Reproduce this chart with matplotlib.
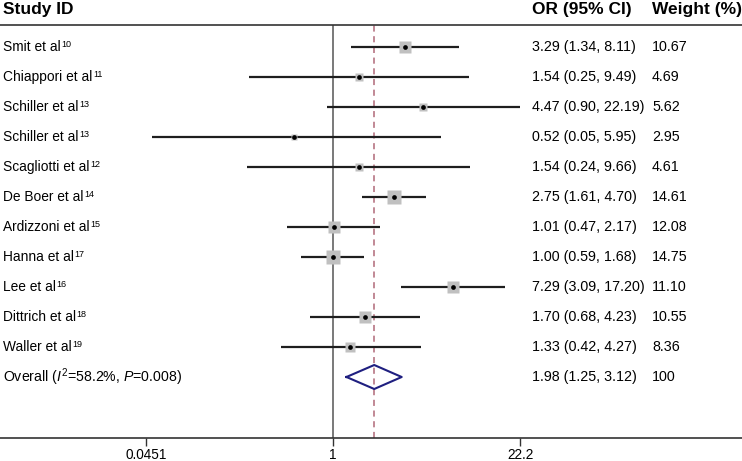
import matplotlib
matplotlib.use("Agg")
import matplotlib.pyplot as plt
import numpy as np
from matplotlib.transforms import blended_transform_factory

plt.rcParams['font.family'] = ['Liberation Sans', 'DejaVu Sans']
plt.rcParams['mathtext.fontset'] = 'custom'
plt.rcParams['mathtext.rm'] = 'Liberation Sans'
plt.rcParams['mathtext.it'] = 'Liberation Sans:italic'
plt.rcParams['mathtext.bf'] = 'Liberation Sans:bold'

# ---------------- data ----------------
studies = ["Smit et al", "Chiappori et al", "Schiller et al", "Schiller et al",
           "Scagliotti et al", "De Boer et al", "Ardizzoni et al", "Hanna et al",
           "Lee et al", "Dittrich et al", "Waller et al"]
refs = ["10", "11", "13", "13", "12", "14", "15", "17", "16", "18", "19"]
or_vals = [3.29, 1.54, 4.47, 0.52, 1.54, 2.75, 1.01, 1.00, 7.29, 1.70, 1.33]
ci_low = [1.34, 0.25, 0.90, 0.05, 0.24, 1.61, 0.47, 0.59, 3.09, 0.68, 0.42]
ci_high = [8.11, 9.49, 22.19, 5.95, 9.66, 4.70, 2.17, 1.68, 17.20, 4.23, 4.27]
weights = [10.67, 4.69, 5.62, 2.95, 4.61, 14.61, 12.08, 14.75, 11.10, 10.55, 8.36]

overall_or = 1.98
overall_low = 1.25
overall_high = 3.12
overall_label = "Overall ($I^{2}$=58.2%, $P$=0.008)"
overall_weight = "100"

tick_vals = [0.0451, 1, 22.2]
tick_labels = ["0.0451", "1", "22.2"]

# ---------------- figure ----------------
W, H = 742, 461
fig = plt.figure(figsize=(W / 100, H / 100), dpi=100)
top_px, bot_px = 25, 438
ax = fig.add_axes([0, (H - bot_px) / H, 1, (bot_px - top_px) / H])

# x scale: log, pixel = 333 + 139*log10(v)
ax.set_xscale('log')
x0_px, ppd = 333.0, 139.0
ax.set_xlim(10 ** ((0 - x0_px) / ppd), 10 ** ((W - x0_px) / ppd))

# y: row index, row i at pixel 47 + 30 i
row0_px, row_h = 47.0, 30.0
ax.set_ylim((bot_px - row0_px) / row_h, (top_px - row0_px) / row_h)

for s in ['left', 'right']:
    ax.spines[s].set_visible(False)
for s in ['top', 'bottom']:
    ax.spines[s].set_color('#333333')
    ax.spines[s].set_linewidth(1.2)
ax.set_yticks([])
ax.set_xticks(tick_vals)
ax.set_xticklabels(tick_labels, fontsize=9.8)
ax.minorticks_off()
ax.tick_params(axis='x', direction='out', length=6, width=1, color='#333333', pad=1.5)

n = len(studies)
rows = np.arange(n)
overall_row = n

# reference lines
ax.axvline(1, color='#555555', lw=1.1, zorder=1)
ax.axvline(overall_or, color='#b06878', lw=1.1, ls=(0, (4, 3)), zorder=1)

# CI lines and boxes
for i in range(n):
    ax.plot([ci_low[i], ci_high[i]], [rows[i], rows[i]], color='#1e1e1e', lw=1.6, zorder=2,
            solid_capstyle='butt')
    side_px = 3.65 * np.sqrt(weights[i])
    ax.plot(or_vals[i], rows[i], marker='s', ms=side_px * 0.72, color='#c0c0c0',
            mec='none', zorder=3)
    ax.plot(or_vals[i], rows[i], marker='o', ms=3.4, color='black', mec='none', zorder=4)

# diamond
dh = 0.4
dx = [overall_low, overall_or, overall_high, overall_or, overall_low]
dy = [overall_row, overall_row - dh, overall_row, overall_row + dh, overall_row]
ax.plot(dx, dy, color='#1f1f80', lw=1.5, zorder=4)

# text
trans = blended_transform_factory(ax.transAxes, ax.transData)
fs_lab = 9.9
fs_num = 10.3
lab_x = 3 / W
or_x = 532 / W
wt_x = 652 / W

header_row = (10 - row0_px) / row_h
for hx, htxt in [(lab_x, "Study ID"), (or_x, "OR (95% CI)"), (wt_x, "Weight (%)")]:
    ax.text(hx, header_row, htxt, transform=trans, fontsize=12.5, fontweight='bold',
            va='center', ha='left', clip_on=False)

for i in range(n):
    t = ax.text(lab_x, rows[i], studies[i], transform=trans,
                fontsize=fs_lab, va='center', ha='left')
    ax.annotate(refs[i], xy=(1, 1.0), xycoords=t, xytext=(0.5, 0.3),
                textcoords='offset points', fontsize=6.5, va='top', ha='left')
    ax.text(or_x, rows[i], f"{or_vals[i]:.2f} ({ci_low[i]:.2f}, {ci_high[i]:.2f})",
            transform=trans, fontsize=fs_num, va='center', ha='left')
    ax.text(wt_x, rows[i], f"{weights[i]:.2f}", transform=trans, fontsize=fs_num,
            va='center', ha='left')

ax.text(lab_x, overall_row, overall_label, transform=trans, fontsize=fs_lab + 0.3,
        va='center', ha='left')
ax.text(or_x, overall_row, f"{overall_or:.2f} ({overall_low:.2f}, {overall_high:.2f})",
        transform=trans, fontsize=fs_num, va='center', ha='left')
ax.text(wt_x, overall_row, overall_weight, transform=trans, fontsize=fs_num,
        va='center', ha='left')

fig.savefig("out.png", dpi=100)
